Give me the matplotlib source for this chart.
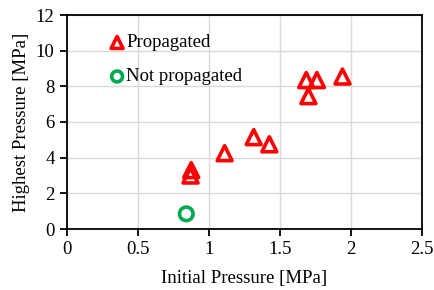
import matplotlib.pyplot as plt

# data
prop_x = [0.87, 0.875, 1.11, 1.315, 1.425, 1.685, 1.76, 1.70, 1.94]
prop_y = [3.0, 3.3, 4.25, 5.15, 4.75, 8.35, 8.35, 7.45, 8.55]
notprop_x = [0.84]
notprop_y = [0.85]

plt.rcParams['font.family'] = ['Liberation Serif', 'DejaVu Serif']

fig = plt.figure(figsize=(4.34, 2.90), dpi=100)
ax = fig.add_axes([67/434, 1 - 229/290, (422 - 67)/434, (229 - 15)/290])

ax.scatter(prop_x, prop_y, marker='^', s=115, facecolors='none',
           edgecolors='#ff0000', linewidths=2.6, label='Propagated', zorder=3)
ax.scatter(notprop_x, notprop_y, marker='o', s=95, facecolors='none',
           edgecolors='#00a84f', linewidths=2.6, label='Not propagated', zorder=3)

ax.set_xlim(0, 2.5)
ax.set_ylim(0, 12)
ax.set_xticks([0, 0.5, 1, 1.5, 2, 2.5])
ax.set_xticklabels(['0', '0.5', '1', '1.5', '2', '2.5'])
ax.set_yticks(range(0, 13, 2))
ax.grid(True, color='#d9d9d9', linewidth=1)
ax.set_axisbelow(True)

for s in ax.spines.values():
    s.set_linewidth(1.3)
    s.set_color('black')
ax.tick_params(direction='out', length=5, width=1.3, labelsize=13.5, colors='black', pad=4)

ax.set_xlabel('Initial Pressure [MPa]', fontsize=13.5, labelpad=8)
ax.set_ylabel('Highest Pressure [MPa]', fontsize=13.5, labelpad=4)

leg = ax.legend(loc='upper left', bbox_to_anchor=(0.12, 0.91), frameon=False,
                fontsize=13.5, handlelength=0.8, handletextpad=0.1,
                labelspacing=0.9, markerscale=0.8, borderpad=0, borderaxespad=0)

fig.savefig('out.png', dpi=100)
